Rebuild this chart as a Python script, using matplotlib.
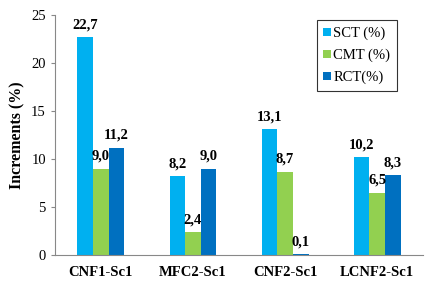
import matplotlib
matplotlib.use("Agg")
import matplotlib.pyplot as plt
import numpy as np

categories = ["CNF1-Sc1", "MFC2-Sc1", "CNF2-Sc1", "LCNF2-Sc1"]
series_names = ["SCT (%)", "CMT (%)", "RCT(%)"]
sct = [22.7, 8.2, 13.1, 10.2]
cmt = [9.0, 2.4, 8.7, 6.5]
rct = [11.2, 9.0, 0.1, 8.3]
colors = ["#00B0F0", "#92D050", "#0070C0"]

plt.rcParams['font.family'] = ['Liberation Serif', 'DejaVu Serif']

fig = plt.figure(figsize=(4.39, 2.87), dpi=100)
ax = fig.add_axes([0.125, 0.111, 0.839, 0.837])

x = np.arange(len(categories))
w = 0.17
for i, (vals, name, c) in enumerate(zip([sct, cmt, rct], series_names, colors)):
    pos = x + (i - 1) * w
    ax.bar(pos, vals, w, color=c, label=name)
    for p, v in zip(pos, vals):
        ax.text(p, v + 0.6, f"{v:.1f}".replace(".", ","), ha="center", va="bottom",
                fontsize=10.5, fontweight="bold")

ax.set_xlim(-0.5, 3.5)
ax.set_ylim(0, 25)
ax.set_yticks([0, 5, 10, 15, 20, 25])
ax.set_xticks(x)
ax.set_xticklabels(categories, fontweight="bold", fontsize=10.5)
ax.tick_params(axis="x", length=0, pad=8)
ax.tick_params(axis="y", labelsize=10.5, length=3, color="#888888")
ax.set_ylabel("Increments (%)", fontweight="bold", fontsize=11.5)
for s in ["top", "right"]:
    ax.spines[s].set_visible(False)
for s in ["left", "bottom"]:
    ax.spines[s].set_color("#888888")

leg = ax.legend(loc="upper right", bbox_to_anchor=(0.929, 0.979), fontsize=10.5,
                frameon=True, fancybox=False, edgecolor="black", handlelength=0.5,
                handleheight=0.5, handletextpad=0.2, labelspacing=0.6,
                borderpad=0.45, borderaxespad=0)
leg.get_frame().set_linewidth(0.8)

fig.savefig("out.png", dpi=100)
